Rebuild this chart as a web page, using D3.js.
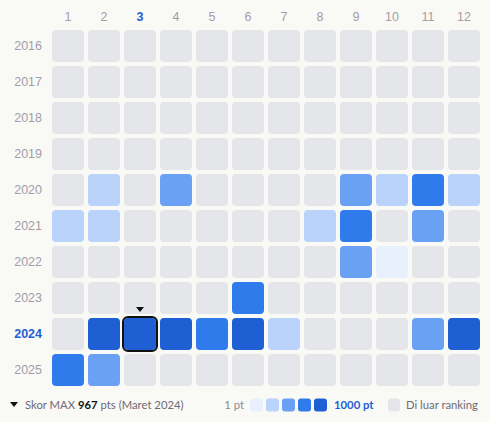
<!DOCTYPE html>
<html>
<head>
<meta charset="utf-8">
<script src="https://cdn.jsdelivr.net/npm/d3@7"></script>
<style>
  body { margin: 0; background: #f9f9f6; }
  svg { display: block; font-family: Lato, "Noto Sans", sans-serif; }
  .axis .domain { display: none; }
  .axis text { fill: #a29da8; font-size: 12.5px; }
</style>
</head>
<body>
<div id="chart-area"></div>
<script>
// bulan dan tahun
const months = [1, 2, 3, 4, 5, 6, 7, 8, 9, 10, 11, 12]
const years = [2016, 2017, 2018, 2019, 2020, 2021, 2022, 2023, 2024, 2025]

// skor per bulan (null = di luar ranking)
const s2016 = [null, null, null, null, null, null, null, null, null, null, null, null]
const s2017 = [null, null, null, null, null, null, null, null, null, null, null, null]
const s2018 = [null, null, null, null, null, null, null, null, null, null, null, null]
const s2019 = [null, null, null, null, null, null, null, null, null, null, null, null]
const s2020 = [null, 290, null, 540, null, null, null, null, 530, 320, 740, 300]
const s2021 = [330, 300, null, null, null, null, null, 310, 760, null, 560, null]
const s2022 = [null, null, null, null, null, null, null, null, 510, 90, null, null]
const s2023 = [null, null, null, null, null, 730, null, null, null, null, null, null]
const s2024 = [null, 880, 967, 910, 720, 930, 310, null, null, null, 520, 890]
const s2025 = [690, 480, null, null, null, null, null, null, null, null, null, null]
const scoreRows = [s2016, s2017, s2018, s2019, s2020, s2021, s2022, s2023, s2024, s2025]

const maxYear = 2024
const maxMonth = 3
const maxScore = 967

const levels = ["#e8f0fe", "#bad3fb", "#6aa1f4", "#2f7bec", "#1e5fd4"]
const EMPTY = "#e5e6ea"

const W = 490, H = 422

const svg = d3.select("#chart-area").append("svg")
  .attr("width", W)
  .attr("height", H)

// skala
const x = d3.scaleBand().domain(months).range([52, 480]).paddingInner(4 / 36).paddingOuter(0)
const y = d3.scaleBand().domain(years).range([30, 386]).paddingInner(4 / 36).paddingOuter(0)
const color = d3.scaleQuantize().domain([1, 1000]).range(levels)

// sumbu
const xAxis = svg.append("g")
  .attr("class", "axis")
  .attr("transform", "translate(0,30)")
  .call(d3.axisTop(x).tickSize(0).tickPadding(9))
xAxis.selectAll("text")
  .filter(d => d === maxMonth)
  .style("fill", "#1e5fd4")
  .style("font-weight", "bold")

const yAxis = svg.append("g")
  .attr("class", "axis")
  .attr("transform", "translate(52,0)")
  .call(d3.axisLeft(y).tickSize(0).tickPadding(10))
yAxis.selectAll("text")
  .filter(d => d === maxYear)
  .style("fill", "#1e5fd4")
  .style("font-weight", "bold")

// sel
const cells = []
years.forEach((yr, i) => {
  months.forEach((m, j) => cells.push({ year: yr, month: m, value: scoreRows[i][j] }))
})

svg.append("g").selectAll("rect")
  .data(cells)
  .join("rect")
  .attr("x", d => x(d.month))
  .attr("y", d => y(d.year))
  .attr("width", x.bandwidth())
  .attr("height", y.bandwidth())
  .attr("rx", 4)
  .attr("fill", d => d.value == null ? EMPTY : color(d.value))

// penanda skor maksimum
const mx = x(maxMonth), my = y(maxYear)
svg.append("rect")
  .attr("x", mx - 1)
  .attr("y", my - 1)
  .attr("width", x.bandwidth() + 2)
  .attr("height", y.bandwidth() + 2)
  .attr("rx", 5)
  .attr("fill", "none")
  .attr("stroke", "#111")
  .attr("stroke-width", 2)

const cx = mx + x.bandwidth() / 2
svg.append("path")
  .attr("d", `M${cx - 4},${my - 11}L${cx + 4},${my - 11}L${cx},${my - 6}Z`)
  .attr("fill", "#111")

// legenda
const ly = 405
const legend = svg.append("g").attr("font-size", 11.3)

legend.append("path")
  .attr("d", `M10,${ly - 3}L18,${ly - 3}L14,${ly + 2}Z`)
  .attr("fill", "#111")

const note = legend.append("text")
  .attr("x", 25)
  .attr("y", ly)
  .attr("dy", "0.35em")
  .attr("fill", "#6f6a75")
note.append("tspan").text("Skor MAX ")
note.append("tspan").attr("fill", "#111").attr("font-weight", "bold").text(maxScore)
note.append("tspan").text(" pts (Maret 2024)")

legend.append("text")
  .attr("x", 244)
  .attr("y", ly)
  .attr("dy", "0.35em")
  .attr("text-anchor", "end")
  .attr("fill", "#8f8a95")
  .text("1 pt")

legend.selectAll(".sw")
  .data(levels)
  .join("rect")
  .attr("class", "sw")
  .attr("x", (d, i) => 250 + i * 16)
  .attr("y", ly - 6.5)
  .attr("width", 13)
  .attr("height", 13)
  .attr("rx", 3)
  .attr("fill", d => d)

legend.append("text")
  .attr("x", 334)
  .attr("y", ly)
  .attr("dy", "0.35em")
  .attr("fill", "#1e5fd4")
  .attr("font-weight", "bold")
  .text("1000 pt")

legend.append("rect")
  .attr("x", 388)
  .attr("y", ly - 6.5)
  .attr("width", 12)
  .attr("height", 13)
  .attr("rx", 3)
  .attr("fill", EMPTY)

legend.append("text")
  .attr("x", 406)
  .attr("y", ly)
  .attr("dy", "0.35em")
  .attr("fill", "#6f6a75")
  .text("Di luar ranking")
</script>
</body>
</html>
